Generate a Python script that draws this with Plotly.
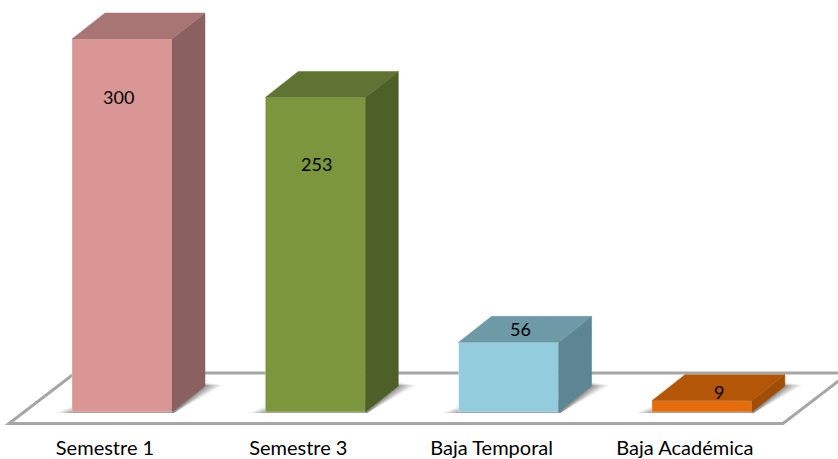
import plotly.graph_objects as go

categories = ["Semestre 1", "Semestre 3", "Baja Temporal", "Baja Académica"]
values = [300, 253, 56, 9]
front_colors = ["#D99694", "#7B963C", "#93CDDD", "#E46C0A"]
side_colors = ["#8B6060", "#4E6027", "#5E8592", "#A04E07"]
top_colors = ["#A87574", "#5F7332", "#6E99A6", "#B35607"]

W, H = 838, 459
PLOT_BOTTOM = 434
ZERO_X, ZERO_Y = 122, 412          # pixel of category 0 / value 0
PX_CAT, PX_VAL = 193.3, 373 / 300  # pixels per category / per value unit
BAR_PX, DEPTH_X, DEPTH_Y = 100, 33, 26


def ux(px):
    return px / PX_CAT


def uy(px):
    return px / PX_VAL


x_range = [ux(0 - ZERO_X), ux(W - ZERO_X)]
y_range = [uy(ZERO_Y - PLOT_BOTTOM), uy(ZERO_Y)]

half = ux(BAR_PX) / 2
dx, dy = ux(DEPTH_X), uy(DEPTH_Y)
idx = list(range(len(categories)))

fig = go.Figure()

fig.add_trace(go.Bar(
    x=idx, y=values, width=2 * half, base=0,
    marker=dict(color=front_colors, line=dict(color="rgba(255,255,255,0.35)", width=1)),
    hoverinfo="skip", showlegend=False,
))

for i, v in zip(idx, values):
    x0, x1 = i - half, i + half
    fig.add_trace(go.Scatter(
        x=[x1, x1 + dx, x1 + dx, x1, x1], y=[0, dy, v + dy, v, 0],
        mode="lines", fill="toself", fillcolor=side_colors[i],
        line=dict(color=side_colors[i], width=0.5), hoverinfo="skip", showlegend=False,
    ))
    fig.add_trace(go.Scatter(
        x=[x0, x1, x1 + dx, x0 + dx, x0], y=[v, v, v + dy, v + dy, v],
        mode="lines", fill="toself", fillcolor=top_colors[i],
        line=dict(color=top_colors[i], width=0.5), hoverinfo="skip", showlegend=False,
    ))


def path(points):
    return "M " + " L ".join(f"{a:.4f},{b:.4f}" for a, b in points) + " Z"


shapes = []
# floor
fl, fr = ux(9 - ZERO_X), ux(783 - ZERO_X)
fy, by = uy(ZERO_Y - 423.5), uy(ZERO_Y - 373)
fd = ux(66)
shapes.append(dict(
    type="path", layer="below", xref="x", yref="y",
    path=path([(fl, fy), (fr, fy), (fr + fd, by), (fl + fd, by)]),
    fillcolor="white", line=dict(color="#A6A6A6", width=3),
))
# soft shadows: nested translucent polygons
for i in idx:
    x0, x1 = i - half, i + half
    for grow, alpha in [(16, 0.08), (13, 0.09), (10, 0.11), (7, 0.13), (4, 0.16), (1, 0.2)]:
        g = ux(grow)
        shapes.append(dict(
            type="path", layer="below", xref="x", yref="y",
            path=path([
                (x0 - g, uy(-1)), (x1 + ux(2), uy(-1)),
                (x1 + dx + g * 1.1, dy + uy(grow * 0.05)), (x1 + dx, dy + uy(grow * 0.22)),
                (x1, uy(12)), (x0 + ux(4), uy(grow * 0.45)),
            ]),
            fillcolor=f"rgba(60,60,60,{alpha})", line=dict(width=0),
        ))

label_shift = [(-4, -58), (1, -67), (12, 13), (17, 9)]
annotations = [
    dict(x=i, y=v, xref="x", yref="y", text=str(v), showarrow=False,
         xshift=label_shift[i][0], yshift=label_shift[i][1],
         font=dict(family="Lato", size=18, color="black"))
    for i, v in zip(idx, values)
]

fig.update_layout(
    width=W, height=H, margin=dict(l=0, r=0, t=0, b=H - PLOT_BOTTOM),
    paper_bgcolor="white", plot_bgcolor="white", showlegend=False,
    shapes=shapes, annotations=annotations,
    xaxis=dict(range=x_range, tickmode="array", tickvals=[i - ux(17) for i in idx],
               ticktext=categories, ticks="", showgrid=False, zeroline=False, showline=False,
               automargin=False,
               tickfont=dict(family="Lato", size=20, color="black"), fixedrange=True),
    yaxis=dict(range=y_range, visible=False, showgrid=False, zeroline=False, fixedrange=True,
               automargin=False),
)

fig.write_html(
    "out.html",
    config={"displayModeBar": False},
    post_script="document.body.style.margin='0';document.body.style.overflow='hidden';",
)
